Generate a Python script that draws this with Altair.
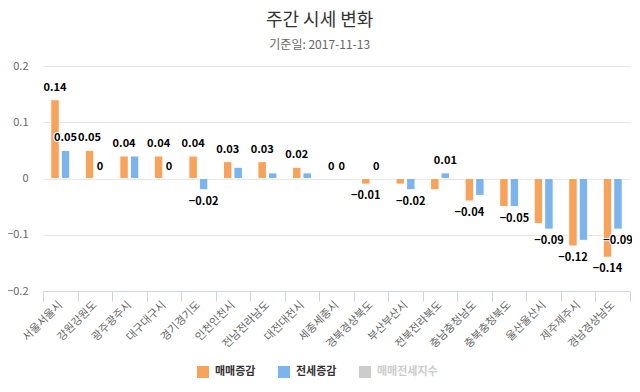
import altair as alt
import pandas as pd

regions = ["서울서울시", "강원강원도", "광주광주시", "대구대구시", "경기경기도", "인천인천시",
           "전남전라남도", "대전대전시", "세종세종시", "경북경상북도", "부산부산시", "전북전라북도",
           "충남충청남도", "충북충청북도", "울산울산시", "제주제주시", "경남경상남도"]
sale_change = [0.14, 0.05, 0.04, 0.04, 0.04, 0.03, 0.03, 0.02, 0, -0.01, -0.01, -0.02,
               -0.04, -0.05, -0.08, -0.12, -0.14]
jeonse_change = [0.05, 0, 0.04, 0, -0.02, 0.02, 0.01, 0.01, 0, 0, -0.02, 0.01,
                 -0.03, -0.05, -0.09, -0.11, -0.09]
# which data labels are visible in the original (overlapping ones are hidden)
sale_label_shown = [1, 1, 1, 1, 1, 1, 1, 1, 1, 1, 0, 0, 1, 0, 0, 1, 1]
jeonse_label_shown = [1, 1, 0, 1, 1, 0, 0, 0, 1, 1, 1, 1, 0, 1, 1, 0, 1]
series_names = ["매매증감", "전세증감", "매매전세지수"]
series_colors = ["#f7a35c", "#7cb5ec", "#cccccc"]
y_ticks = [-0.2, -0.1, 0, 0.1, 0.2]

rows = []
for i, r in enumerate(regions):
    rows.append({"region": r, "series": series_names[0], "value": sale_change[i], "shown": sale_label_shown[i]})
    rows.append({"region": r, "series": series_names[1], "value": jeonse_change[i], "shown": jeonse_label_shown[i]})
df = pd.DataFrame(rows)

FONT = "Noto Sans CJK KR"

x_enc = alt.X("region:N", sort=regions,
              scale=alt.Scale(paddingInner=0, paddingOuter=0),
              axis=alt.Axis(title=None, labelAngle=-45, labelAlign="right", labelBaseline="middle",
                            tickBand="extent", tickSize=10, labelPadding=2,
                            domainColor="#ccd6eb", tickColor="#ccd6eb",
                            labelColor="#666666", labelFontSize=11, labelFont=FONT, zindex=1))
xo_enc = alt.XOffset("series:N", scale=alt.Scale(domain=series_names[:2], paddingInner=0.19, paddingOuter=0.74))
y_enc = alt.Y("value:Q", scale=alt.Scale(domain=[-0.2, 0.2], nice=False),
              axis=alt.Axis(title=None, values=y_ticks, format="~g", grid=True, gridColor="#e6e6e6",
                            domain=False, ticks=False, labelPadding=15, labelColor="#666666",
                            labelFontSize=11, labelFont=FONT))

base = alt.Chart(df)

bars = base.mark_bar(stroke="white", strokeWidth=1).encode(
    x=x_enc, xOffset=xo_enc, y=y_enc,
    color=alt.Color("series:N", scale=alt.Scale(domain=series_names, range=series_colors),
                    legend=alt.Legend(title=None, orient="none", legendX=154, legendY=300,
                                      direction="horizontal", symbolType="square", symbolSize=144,
                                      symbolStrokeWidth=0, labelFontSize=11, labelFontWeight="bold",
                                      labelFont=FONT, columnPadding=22, labelOffset=6, padding=0,
                                      labelColor=alt.ExprRef(expr="datum.label === '매매전세지수' ? '#cccccc' : '#333333'")))
)

def labels(cond, dy):
    d = base.transform_filter(cond)
    enc = dict(x=x_enc, xOffset=xo_enc, y=y_enc, text=alt.Text("value:Q", format=".2~f"))
    outline = d.mark_text(dy=dy, fontSize=11, fontWeight="bold", font=FONT, stroke="white",
                          strokeWidth=2, color="white").encode(**enc)
    txt = d.mark_text(dy=dy, fontSize=11, fontWeight="bold", font=FONT, color="#000000").encode(**enc)
    return outline + txt

pos_labels = labels("datum.shown == 1 && datum.value >= 0", -12)
neg_labels = labels("datum.shown == 1 && datum.value < 0", 12)

chart = alt.layer(bars, pos_labels, neg_labels).properties(
    width=587, height=225,
    autosize=alt.AutoSizeParams(type="none"),
    padding={"left": 35, "top": 58, "right": 2, "bottom": 88},
    title=alt.TitleParams("주간 시세 변화", subtitle="기준일: 2017-11-13", anchor="middle", frame="bounds",
                          fontSize=18, fontWeight="normal", color="#333333", font=FONT,
                          subtitleFont=FONT, subtitleFontSize=12, subtitleColor="#666666",
                          offset=9, subtitlePadding=10)
).configure(font=FONT).configure_view(stroke=None)

chart.save("out.html", embed_options={"renderer": "svg", "actions": False})
